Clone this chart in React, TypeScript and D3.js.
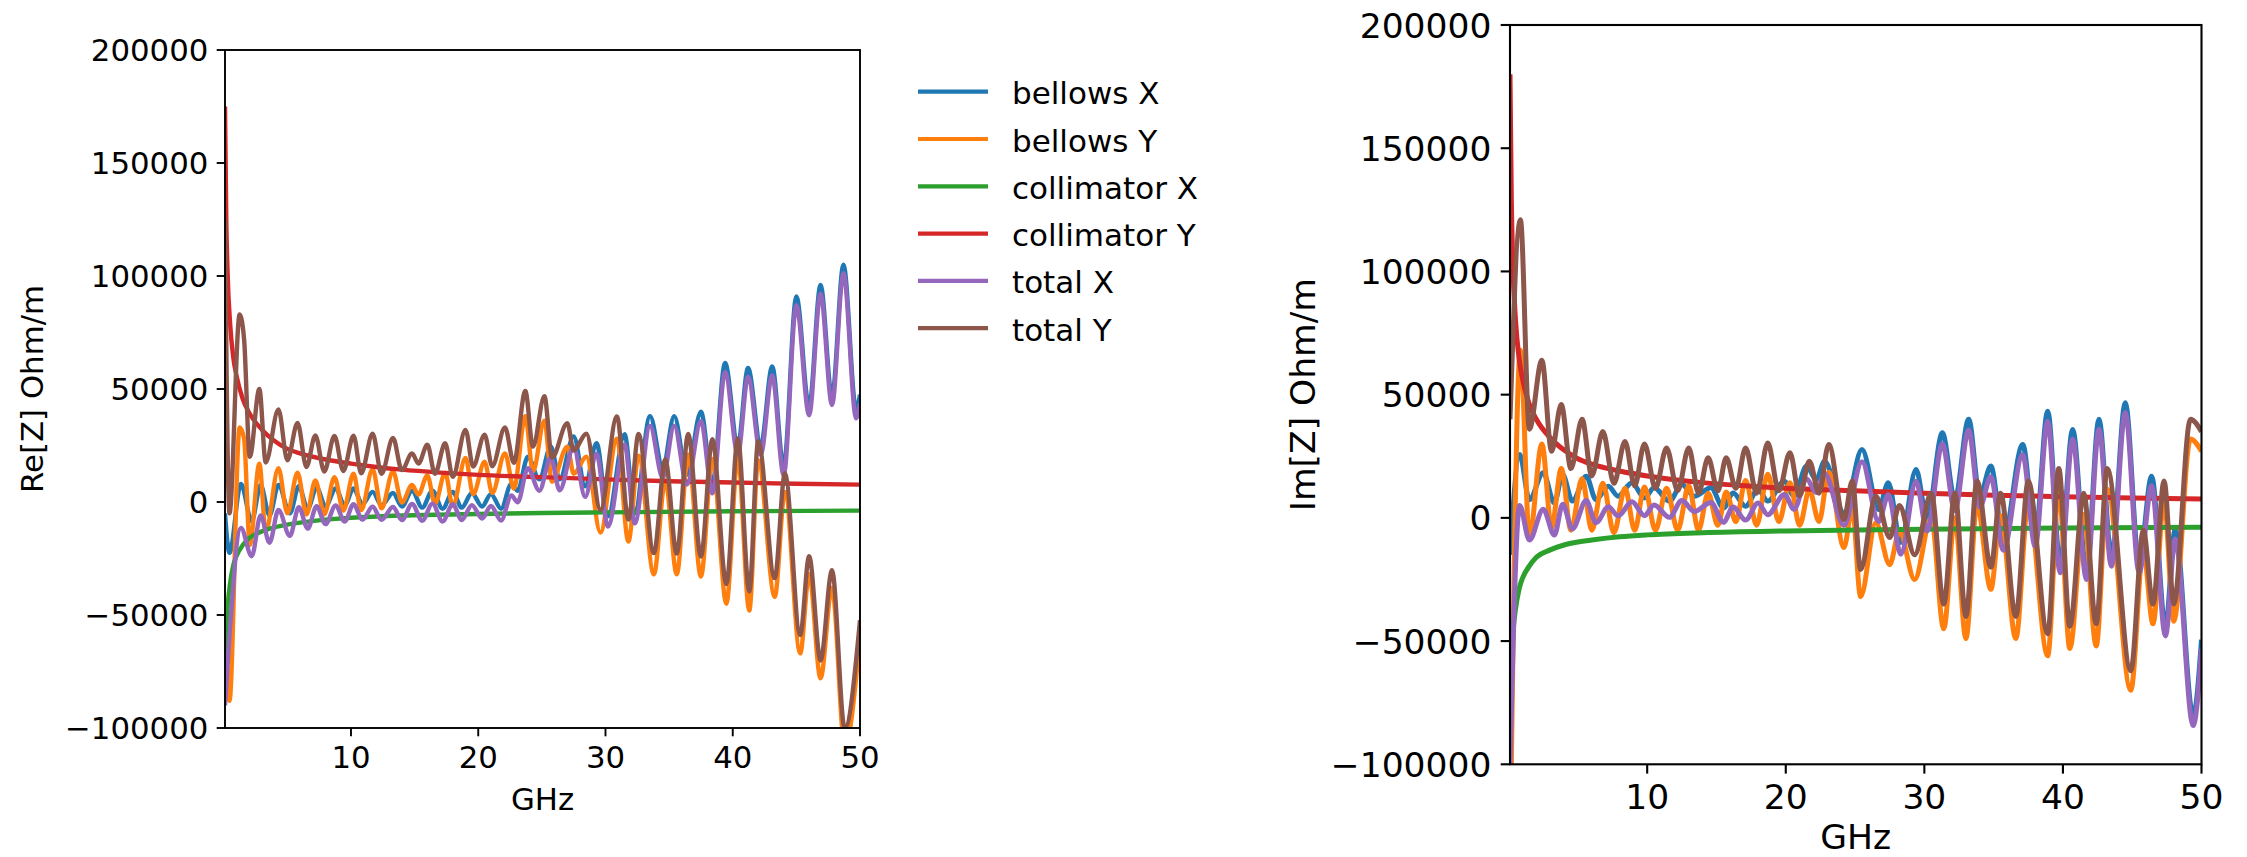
import React from 'react';
import * as d3 from 'd3';

type Pt = [number, number];

// ---- legend / series styling ----
const SERIES_NAMES = ['bellows X', 'bellows Y', 'collimator X', 'collimator Y', 'total X', 'total Y'];
const SERIES_COLORS = ['#1f77b4', '#ff7f0e', '#2ca02c', '#d62728', '#9467bd', '#8c564b'];

// ---- axis ticks ----
const X_TICKS = [10, 20, 30, 40, 50];
const Y_TICKS = [-100000, -50000, 0, 50000, 100000, 150000, 200000];
const X_DOMAIN: [number, number] = [0.1, 50];
const Y_DOMAIN: [number, number] = [-100000, 200000];

// ---- Re[Z] (GHz, Ohm/m) ----
const reCollY: Pt[] = [[0.1,175000],[0.2,125000],[0.3,102000],[0.5,79000],[0.75,64000],[1,56000],[1.5,45500],[2,39500],[3,32000],[4,27000],[5,23500],[6,21500],[8,18800],[10,17000],[12,15500],[14,14300],[17,13000],[20,12000],[25,11000],[30,10000],[35,9200],[40,8600],[45,8100],[50,7700]];
const reCollX: Pt[] = [[0.1,-85000],[0.2,-58000],[0.3,-47000],[0.5,-36000],[0.75,-28000],[1,-24000],[1.5,-19000],[2,-16000],[3,-13000],[4,-11200],[5,-10000],[6,-9100],[8,-7800],[10,-7000],[14,-6000],[20,-5300],[25,-4900],[30,-4600],[40,-4100],[50,-3800]];
const reBellowsY: Pt[] = [[0.1,-50000],[0.45,-88000],[1.25,33000],[1.6,28000],[2.05,-19000],[2.8,17000],[3.3,-13000],[4.3,15000],[5,-5000],[5.8,13000],[6.5,-5500],[7.2,9500],[7.9,-5500],[8.7,11000],[9.4,-3800],[10.2,12500],[10.8,-3600],[11.7,14500],[12.4,-2800],[13.3,13500],[14,-200],[14.8,7500],[15.3,3300],[16,11800],[16.6,-800],[17.4,13000],[18,-1700],[19,19500],[19.6,3500],[20.5,17800],[21.1,4000],[22.1,21500],[22.8,6000],[23.7,38000],[24.3,13500],[25.2,36000],[25.8,9000],[27,24500],[27.5,12500],[28.5,20000],[29.6,-13500],[30.9,28000],[31.8,-17500],[32.6,20500],[33.8,-32000],[34.7,9500],[35.6,-32000],[36.5,21000],[37.5,-33000],[38.4,19000],[39.5,-45000],[40.4,19500],[41.3,-48000],[42,18500],[43.3,-42000],[44.1,4500],[45.3,-67000],[46,-32000],[46.9,-78000],[47.8,-38000],[48.8,-108000],[50,-60000]];
const reTotalY: Pt[] = [[0.1,125000],[0.45,-5000],[1.25,83000],[1.6,72000],[2.05,20000],[2.8,50000],[3.3,17500],[4.3,41000],[5,18500],[5.8,35000],[6.5,15500],[7.2,29500],[7.9,13500],[8.7,29200],[9.4,13700],[10.2,29300],[10.8,12700],[11.7,30200],[12.4,12500],[13.3,28300],[14,14100],[14.8,21500],[15.3,17000],[16,25300],[16.6,12500],[17.4,26000],[18,11100],[19,31900],[19.6,15700],[20.5,29800],[21.1,15800],[22.1,33000],[22.8,17300],[23.7,49100],[24.3,24500],[25.2,46800],[25.8,19700],[27,34900],[27.5,22800],[28.5,30200],[29.6,-3500],[30.9,37800],[31.8,-7800],[32.6,30100],[33.8,-22600],[34.7,18800],[35.6,-22800],[36.5,30100],[37.5,-24100],[38.4,27800],[39.5,-36300],[40.4,28100],[41.3,-39500],[42,26900],[43.3,-33700],[44.1,12700],[45.3,-58900],[46,-24000],[46.9,-70100],[47.8,-30200],[48.8,-100250],[50,-52300]];
const reBellowsX: Pt[] = [[0.1,-5000],[0.45,-22500],[1.35,8000],[2.2,-8500],[2.9,7500],[3.6,-6000],[4.3,7500],[5.2,-5000],[5.9,7000],[6.6,-3000],[7.3,6500],[8,-2000],[8.8,6000],[9.5,-1500],[10.2,6000],[10.9,-1000],[11.7,4500],[12.4,-1500],[13.3,4000],[14,-2000],[14.8,5000],[15.6,-2500],[16.4,5000],[17.2,-3000],[18,4500],[18.7,-2500],[19.5,4000],[20.3,-2000],[21,3500],[21.8,-3000],[22.6,8000],[23.1,5000],[23.9,20000],[24.8,10000],[25.7,24600],[26.4,10000],[27.5,29000],[28.4,7000],[29.3,26000],[30.2,-6300],[31.5,30000],[32.3,-5000],[33.5,38000],[34.5,15000],[35.4,38000],[36.4,12000],[37.5,40000],[38.4,8000],[39.4,61500],[40.4,25000],[41.2,59300],[42.2,25000],[43.1,60000],[44,15800],[45,91000],[46,42300],[46.9,96000],[47.8,46800],[48.7,105000],[49.7,40800],[50,47500]];
const reTotalX: Pt[] = [[0.1,-90000],[0.45,-59500],[1.35,-11500],[2.2,-24000],[2.9,-6000],[3.6,-18000],[4.3,-3500],[5.2,-15000],[5.9,-2300],[6.6,-11800],[7.3,-1900],[8,-9800],[8.8,-1500],[9.5,-8700],[10.2,-1000],[10.9,-7800],[11.7,-2100],[12.4,-7900],[13.3,-2200],[14,-8000],[14.8,-900],[15.6,-8300],[16.4,-700],[17.2,-8600],[18,-1000],[18.7,-7950],[19.5,-1400],[20.3,-7300],[21,-1750],[21.8,-8200],[22.6,2900],[23.1,-100],[23.9,14950],[24.8,5000],[25.7,19700],[26.4,5150],[27.5,24200],[28.4,2250],[29.3,21300],[30.2,-10900],[31.5,25500],[32.3,-9450],[33.5,33600],[34.5,10650],[35.4,33700],[36.4,7750],[37.5,35800],[38.4,3850],[39.4,57400],[40.4,20950],[41.2,55300],[42.2,21000],[43.1,56050],[44,11850],[45,87100],[46,38400],[46.9,92150],[47.8,42950],[48.7,101200],[49.7,37000],[50,43700]];

// ---- Im[Z] (GHz, Ohm/m) ----
const imCollY: Pt[] = [[0.1,180000],[0.2,128000],[0.3,104000],[0.5,80000],[0.75,65000],[1,56500],[1.5,46000],[2,40000],[3,32500],[4,27500],[5,24000],[6,21800],[8,19000],[10,17000],[12,15500],[14,14300],[17,13000],[20,12000],[25,11000],[30,10000],[35,9200],[40,8600],[45,8100],[50,7700]];
const imCollX: Pt[] = [[0.1,-88000],[0.2,-60000],[0.3,-48000],[0.5,-37000],[0.75,-29000],[1,-24500],[1.5,-19500],[2,-16000],[3,-13000],[4,-11000],[5,-9800],[6,-9000],[8,-7700],[10,-6900],[14,-6000],[20,-5300],[25,-4900],[30,-4600],[40,-4100],[50,-3800]];
const imBellowsY: Pt[] = [[0.1,-140000],[0.85,68000],[1.5,-8000],[2.4,30000],[3.1,-4000],[3.8,20000],[4.5,-5000],[5.3,16000],[6,-5000],[6.8,14000],[7.6,-6000],[8.4,12000],[9.1,-5000],[9.8,12500],[10.6,-5000],[11.4,12000],[12.2,-5000],[13,13000],[13.7,-5000],[14.4,10000],[15.1,-3000],[15.7,10500],[16.4,-1500],[17.1,15200],[17.9,-3000],[18.7,17700],[19.5,-1500],[20.3,14200],[21,-3000],[21.7,11300],[22.4,-1500],[23.1,18500],[24.2,-12000],[24.8,4000],[25.4,-32000],[26.5,-2000],[27.5,-19000],[28.2,-5500],[29.3,-25000],[30.5,0],[31.4,-45000],[32.2,0],[33,-49000],[33.8,5500],[34.8,-29000],[35.5,1000],[36.6,-49000],[37.5,6000],[38.9,-56000],[39.7,11300],[40.5,-53000],[41.5,1500],[42.4,-52000],[43.2,11700],[44.9,-70000],[45.8,-13000],[46.5,-43000],[47.3,7000],[48,-42000],[49.2,32000],[50,27000]];
const imTotalY: Pt[] = [[0.1,40000],[0.85,121000],[1.5,36000],[2.4,64000],[3.1,27000],[3.8,46000],[4.5,20000],[5.3,40000],[6,17000],[6.8,35000],[7.6,14000],[8.4,31000],[9.1,13000],[9.8,30000],[10.6,12000],[11.4,28400],[12.2,11000],[13,28400],[13.7,10000],[14.4,24400],[15.1,11000],[15.7,24400],[16.4,12000],[17.1,28400],[17.9,10000],[18.7,30400],[19.5,11000],[20.3,26400],[21,9000],[21.7,23000],[22.4,10000],[23.1,29800],[24.2,-700],[24.8,15000],[25.4,-21000],[26.5,8800],[27.5,-8000],[28.2,5000],[29.3,-15000],[30.5,10000],[31.4,-35000],[32.2,10000],[33,-40000],[33.8,15000],[34.8,-20000],[35.5,10000],[36.6,-40000],[37.5,15000],[38.9,-47000],[39.7,20000],[40.5,-44000],[41.5,10000],[42.4,-43000],[43.2,20000],[44.9,-62000],[45.8,-5000],[46.5,-35000],[47.3,15000],[48,-35000],[49.2,40000],[50,35000]];
const imBellowsX: Pt[] = [[0.1,-15000],[0.8,25700],[1.5,7400],[2.5,18300],[3.3,6100],[3.9,17600],[4.6,6800],[5.6,16900],[6.3,7400],[7.2,12800],[7.9,8800],[8.9,14200],[9.8,8100],[10.5,12200],[11.6,6800],[12.5,13500],[13.4,8800],[14.6,12200],[15.5,4000],[16.2,10100],[17.1,4700],[18,11500],[18.7,6800],[19.9,14900],[20.6,8800],[21.5,21000],[22.2,15500],[22.8,23000],[24.2,2000],[25.5,27700],[26.7,3400],[27.4,14200],[28.3,-10000],[29.4,19600],[30.2,-700],[31.3,34500],[32.2,7400],[33.2,40000],[34,8800],[34.8,21000],[35.7,-8800],[37.1,29800],[38,-7400],[38.9,43300],[39.8,-18300],[40.7,35900],[41.7,-21000],[42.6,40000],[43.5,-15600],[44.5,46700],[45.5,-18300],[46.4,16900],[47.4,-44000],[48.1,-4700],[49.4,-80500],[50,-49400]];
const imTotalX: Pt[] = [[0.1,-100000],[0.8,5000],[1.5,-9000],[2.5,3500],[3.3,-7000],[3.9,5500],[4.6,-4500],[5.6,7000],[6.3,-2000],[7.2,4500],[7.9,800],[8.9,6500],[9.8,900],[10.5,5200],[11.6,200],[12.5,7000],[13.4,2600],[14.6,6200],[15.5,-1800],[16.2,4400],[17.1,-900],[18,6000],[18.7,1300],[19.9,9500],[20.6,3500],[21.5,15800],[22.2,10300],[22.8,17900],[24.2,-3000],[25.5,22800],[26.7,-1500],[27.4,9400],[28.3,-14800],[29.4,14900],[30.2,-5300],[31.3,30000],[32.2,3000],[33.2,35600],[34,4400],[34.8,16700],[35.7,-13100],[37.1,25600],[38,-11600],[38.9,39200],[39.8,-22300],[40.7,31900],[41.7,-25000],[42.6,36000],[43.5,-19600],[44.5,42800],[45.5,-22200],[46.4,13000],[47.4,-47900],[48.1,-8600],[49.4,-84300],[50,-53200]];

const RE_SERIES = [reBellowsX, reBellowsY, reCollX, reCollY, reTotalX, reTotalY];
const IM_SERIES = [imBellowsX, imBellowsY, imCollX, imCollY, imTotalX, imTotalY];

const FONT = '"DejaVu Sans", sans-serif';

interface PanelProps {
  id: string;
  series: Pt[][];
  left: number;
  right: number;
  top: number;
  bottom: number;
  fontSize: number;
  tickLen: number;
  lineWidth: number;
  spineWidth: number;
  yLabel: string;
  yLabelX: number;
  xLabelY: number;
}

function Panel(p: PanelProps) {
  const x = d3.scaleLinear().domain(X_DOMAIN).range([p.left, p.right]);
  const y = d3.scaleLinear().domain(Y_DOMAIN).range([p.bottom, p.top]);
  const line = d3
    .line<Pt>()
    .x((d) => x(d[0]))
    .y((d) => y(d[1]))
    .curve(d3.curveMonotoneX);
  const pad = p.tickLen;
  const fmt = (v: number) => (v < 0 ? '\u2212' + Math.abs(v) : String(v));
  return (
    <g>
      <defs>
        <clipPath id={p.id}>
          <rect x={p.left} y={p.top} width={p.right - p.left} height={p.bottom - p.top} />
        </clipPath>
      </defs>
      <g clipPath={`url(#${p.id})`} fill="none" strokeLinejoin="round" strokeLinecap="butt">
        {p.series.map((s, i) => (
          <path key={i} d={line(s) ?? ''} stroke={SERIES_COLORS[i]} strokeWidth={p.lineWidth} />
        ))}
      </g>
      <rect
        x={p.left}
        y={p.top}
        width={p.right - p.left}
        height={p.bottom - p.top}
        fill="none"
        stroke="#000"
        strokeWidth={p.spineWidth}
      />
      {Y_TICKS.map((t) => (
        <g key={t}>
          <line x1={p.left - p.tickLen} x2={p.left} y1={y(t)} y2={y(t)} stroke="#000" strokeWidth={p.spineWidth} />
          <text
            x={p.left - p.tickLen - pad}
            y={y(t) + 0.364 * p.fontSize}
            textAnchor="end"
            fontSize={p.fontSize}
            fontFamily={FONT}
          >
            {fmt(t)}
          </text>
        </g>
      ))}
      {X_TICKS.map((t) => (
        <g key={t}>
          <line x1={x(t)} x2={x(t)} y1={p.bottom} y2={p.bottom + p.tickLen} stroke="#000" strokeWidth={p.spineWidth} />
          <text
            x={x(t)}
            y={p.bottom + p.tickLen + pad + 0.76 * p.fontSize}
            textAnchor="middle"
            fontSize={p.fontSize}
            fontFamily={FONT}
          >
            {t}
          </text>
        </g>
      ))}
      <text x={(p.left + p.right) / 2} y={p.xLabelY} textAnchor="middle" fontSize={p.fontSize} fontFamily={FONT}>
        GHz
      </text>
      <text
        transform={`translate(${p.yLabelX},${(p.top + p.bottom) / 2}) rotate(-90)`}
        textAnchor="middle"
        fontSize={p.fontSize}
        fontFamily={FONT}
      >
        {p.yLabel}
      </text>
    </g>
  );
}

function Legend({ x, y, step, fontSize }: { x: number; y: number; step: number; fontSize: number }) {
  return (
    <g>
      {SERIES_NAMES.map((name, i) => (
        <g key={name}>
          <line x1={x} x2={x + 70} y1={y + i * step} y2={y + i * step} stroke={SERIES_COLORS[i]} strokeWidth={4.2} />
          <text x={x + 94} y={y + i * step + 12.5} fontSize={fontSize} fontFamily={FONT}>
            {name}
          </text>
        </g>
      ))}
    </g>
  );
}

export default function App() {
  return (
    <svg
      width={2247}
      height={857}
      viewBox="0 0 2247 857"
      style={{ position: 'absolute', left: 0, top: 0, background: '#fff' }}
    >
      <rect width={2247} height={857} fill="#fff" />
      <Panel
        id="clip-re"
        series={RE_SERIES}
        left={225}
        right={860}
        top={50}
        bottom={728}
        fontSize={30.8}
        tickLen={8.3}
        lineWidth={4.4}
        spineWidth={1.9}
        yLabel="Re[Z] Ohm/m"
        yLabelX={43}
        xLabelY={810}
      />
      <Legend x={918} y={91.7} step={47.3} fontSize={31} />
      <Panel
        id="clip-im"
        series={IM_SERIES}
        left={1510}
        right={2201.5}
        top={25}
        bottom={764.3}
        fontSize={34.5}
        tickLen={9.3}
        lineWidth={5}
        spineWidth={2.1}
        yLabel="Im[Z] Ohm/m"
        yLabelX={1315}
        xLabelY={849}
      />
    </svg>
  );
}
